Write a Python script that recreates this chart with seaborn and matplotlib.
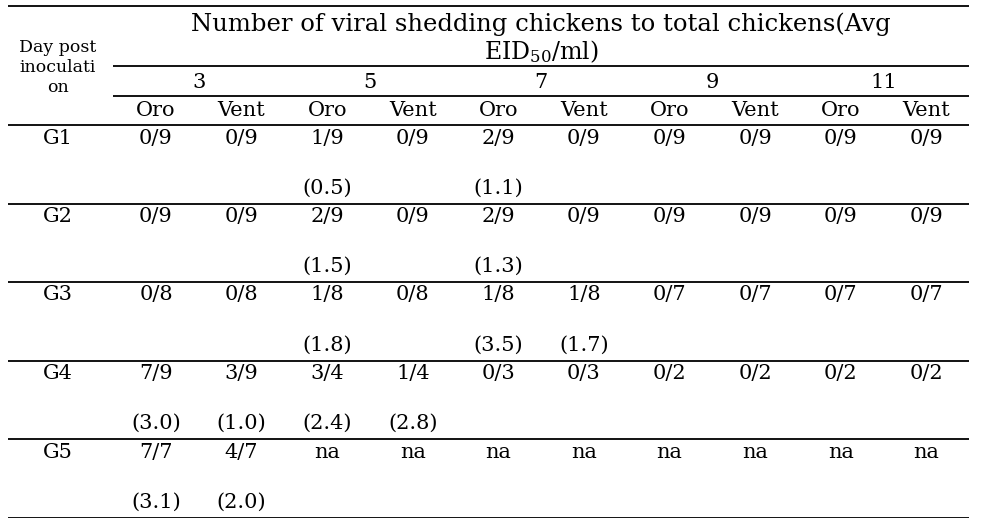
import seaborn as sns
import matplotlib.pyplot as plt

sns.set_theme(style="white")
plt.rcParams["font.family"] = ["DejaVu Serif"]
plt.rcParams["mathtext.fontset"] = "dejavuserif"
plt.rcParams["text.color"] = "black"

# table contents
groups = ["G1", "G2", "G3", "G4", "G5"]
days = ["3", "5", "7", "9", "11"]
routes = ["Oro", "Vent"]

g1_ratio = ["0/9", "0/9", "1/9", "0/9", "2/9", "0/9", "0/9", "0/9", "0/9", "0/9"]
g2_ratio = ["0/9", "0/9", "2/9", "0/9", "2/9", "0/9", "0/9", "0/9", "0/9", "0/9"]
g3_ratio = ["0/8", "0/8", "1/8", "0/8", "1/8", "1/8", "0/7", "0/7", "0/7", "0/7"]
g4_ratio = ["7/9", "3/9", "3/4", "1/4", "0/3", "0/3", "0/2", "0/2", "0/2", "0/2"]
g5_ratio = ["7/7", "4/7", "na", "na", "na", "na", "na", "na", "na", "na"]

g1_titer = [None, None, 0.5, None, 1.1, None, None, None, None, None]
g2_titer = [None, None, 1.5, None, 1.3, None, None, None, None, None]
g3_titer = [None, None, 1.8, None, 3.5, 1.7, None, None, None, None]
g4_titer = [3.0, 1.0, 2.4, 2.8, None, None, None, None, None, None]
g5_titer = [3.1, 2.0, None, None, None, None, None, None, None, None]

ratios = [g1_ratio, g2_ratio, g3_ratio, g4_ratio, g5_ratio]
titers = [g1_titer, g2_titer, g3_titer, g4_titer, g5_titer]

fig = plt.figure(figsize=(9.84, 5.18), dpi=100)
ax = fig.add_axes([0, 0, 1, 1])
ax.set_xlim(0, 984)
ax.set_ylim(518, 0)
ax.axis("off")

fs = 15
lw = 1.3
left, right, sub_left = 8, 969, 113
col_x0, col_w = 156, 85.6
row_top, row_h = 125, 78.5

# header
ax.hlines(6, left, right, color="black", lw=lw)
ax.text(541, 24, "Number of viral shedding chickens to total chickens(Avg",
        ha="center", va="center", fontsize=17.5)
ax.text(541, 52, "EID$_{50}$/ml)", ha="center", va="center", fontsize=17)
ax.hlines(66, sub_left, right, color="black", lw=lw)
for i, d in enumerate(days):
    ax.text(col_x0 + col_w * (2 * i + 0.5), 82, d, ha="center", va="center", fontsize=fs)
ax.hlines(96, sub_left, right, color="black", lw=lw)
for j in range(len(days) * 2):
    ax.text(col_x0 + col_w * j, 110, routes[j % 2], ha="center", va="center", fontsize=fs)
for k, s in enumerate(["Day post", "inoculati", "on"]):
    ax.text(58, 47 + 20 * k, s, ha="center", va="center", fontsize=12.5)
ax.hlines(row_top, left, right, color="black", lw=lw)

# body
for r, g in enumerate(groups):
    y0 = row_top + row_h * r
    ax.text(58, y0 + 13, g, ha="center", va="center", fontsize=fs)
    for j in range(len(ratios[r])):
        x = col_x0 + col_w * j
        ax.text(x, y0 + 13, ratios[r][j], ha="center", va="center", fontsize=fs)
        if titers[r][j] is not None:
            ax.text(x, y0 + 63, f"({titers[r][j]:.1f})", ha="center", va="center", fontsize=fs)
    ax.hlines(y0 + row_h, left, right, color="black", lw=lw)

fig.savefig("out.png", dpi=100)
